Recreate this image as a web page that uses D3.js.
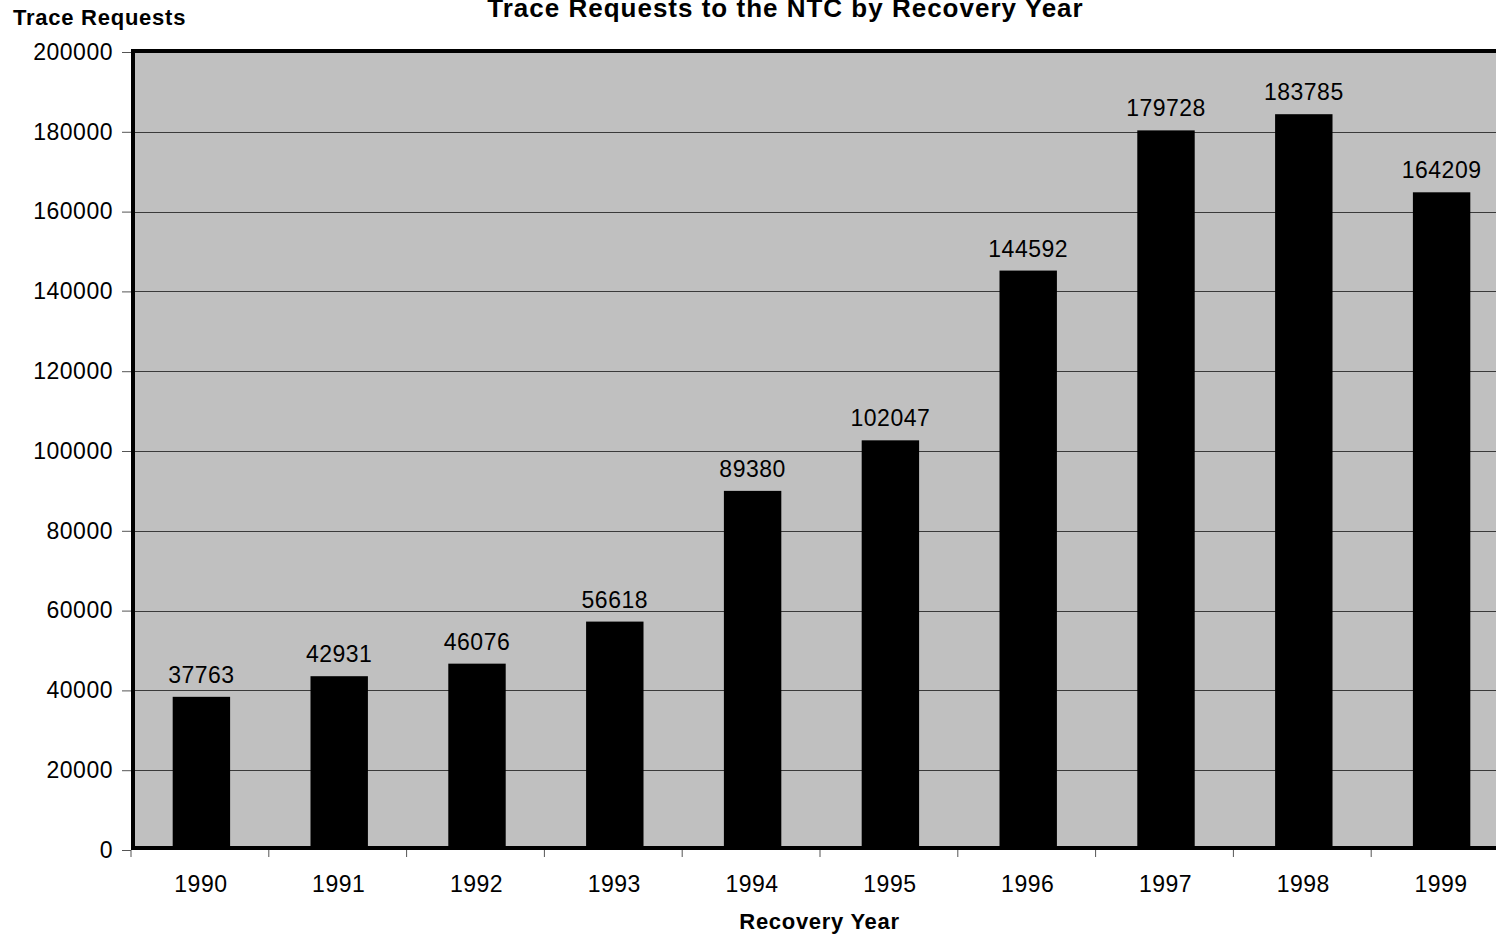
<!DOCTYPE html>
<html><head><meta charset="utf-8">
<script src="https://cdn.jsdelivr.net/npm/d3@7"></script>
<style>html,body{margin:0;padding:0;background:#fff;overflow:hidden}text{font-family:"Liberation Sans",Arial,sans-serif}</style>
</head><body><svg id="c" width="1496" height="940"></svg>
<script>
const years = ["1990","1991","1992","1993","1994","1995","1996","1997","1998","1999"];
const requests = [37763,42931,46076,56618,89380,102047,144592,179728,183785,164209];
const yTicks = [0,20000,40000,60000,80000,100000,120000,140000,160000,180000,200000];
const chartTitle = "Trace Requests to the NTC by Recovery Year";
const yTitle = "Trace Requests";
const xTitle = "Recovery Year";

const svg = d3.select("#c");
const L = 133, R = 1509, T = 51, B = 848;
const x = d3.scaleBand().domain(years).range([131, 1509]).paddingInner(1.4/2.4).paddingOuter(0.7/2.4);
const y = d3.scaleLinear().domain([0,200000]).range([850, 52]);

// plot background
svg.append("rect").attr("x",L).attr("y",T).attr("width",R-L).attr("height",B-T).attr("fill","#c0c0c0");
// gridlines
svg.append("g").selectAll("line").data(yTicks.slice(1,-1)).join("line")
  .attr("x1",L).attr("x2",R).attr("y1",d=>Math.round(y(d))+0.5).attr("y2",d=>Math.round(y(d))+0.5)
  .attr("stroke","#3a3a3a").attr("stroke-width",1);
// bars
svg.append("g").selectAll("rect").data(years).join("rect")
  .attr("x",d=>x(d)+1.5).attr("width",x.bandwidth())
  .attr("y",(d,i)=>y(requests[i])-2.5).attr("height",(d,i)=>850-y(requests[i])+2.5)
  .attr("fill","#000");
// frame
svg.append("rect").attr("x",L).attr("y",T).attr("width",R-L).attr("height",B-T)
  .attr("fill","none").attr("stroke","#000").attr("stroke-width",4);

// y axis
const ya = svg.append("g").attr("transform","translate(131,0)")
  .call(d3.axisLeft(y).tickValues(yTicks).tickSize(9).tickPadding(9).tickFormat(d3.format("d")));
ya.select(".domain").remove();
ya.selectAll("line").attr("stroke","#555");
ya.selectAll("text").attr("font-size",23).attr("fill","#000").attr("letter-spacing",0.5)
  .attr("font-family","Liberation Sans, Arial, sans-serif");

// x axis
const xTickPos = years.map((d,i)=>131 + i*x.step()).concat([131+years.length*x.step()]);
svg.append("g").selectAll("line").data(xTickPos).join("line")
  .attr("x1",d=>d).attr("x2",d=>d).attr("y1",850).attr("y2",857).attr("stroke","#555");
svg.append("g").selectAll("text").data(years).join("text")
  .attr("x",d=>x(d)+x.bandwidth()/2+1).attr("y",892).attr("text-anchor","middle")
  .attr("font-size",23).attr("letter-spacing",0.5).text(d=>d);

// value labels
svg.append("g").selectAll("text").data(years).join("text")
  .attr("x",d=>x(d)+x.bandwidth()/2+1.5).attr("y",(d,i)=>y(requests[i])-16.5).attr("text-anchor","middle")
  .attr("font-size",23).attr("letter-spacing",0.5).text((d,i)=>requests[i]);

// titles
svg.append("text").attr("x",785.5).attr("y",17).attr("text-anchor","middle").attr("font-size",26)
  .attr("font-weight","bold").attr("letter-spacing",1).text(chartTitle);
svg.append("text").attr("x",13).attr("y",25).attr("font-size",22).attr("font-weight","bold")
  .attr("letter-spacing",0.75).text(yTitle);
svg.append("text").attr("x",819.5).attr("y",929).attr("text-anchor","middle").attr("font-size",22)
  .attr("font-weight","bold").attr("letter-spacing",0.7).text(xTitle);
</script></body></html>
